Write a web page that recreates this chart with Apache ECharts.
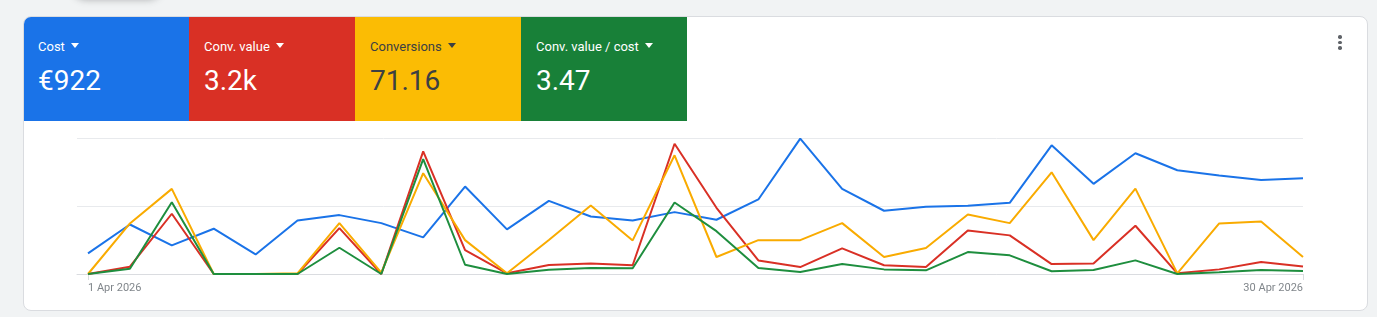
<!DOCTYPE html>
<html>
<head>
<meta charset="utf-8">
<script src="https://cdn.jsdelivr.net/npm/echarts@6/dist/echarts.min.js"></script>
<style>
    html, body { margin: 0; padding: 0; background: #f1f3f4; font-family: Roboto, "Noto Sans", sans-serif; }
    body { width: 1377px; height: 317px; position: relative; overflow: hidden; }
    .top-chip { position: absolute; left: 70px; top: -36px; width: 94px; height: 34px; border-radius: 17px;
        background: #f1f3f4; box-shadow: 0 2px 7px rgba(60,64,67,.35); }
    .card { position: absolute; left: 23px; top: 16px; width: 1345px; height: 295px; background: #fff;
        border: 1px solid #dadce0; border-radius: 8px; box-sizing: border-box; overflow: hidden; }
    .tiles { position: absolute; left: -1px; top: -1px; height: 105px; display: flex; }
    .tile { width: 166px; height: 105px; box-sizing: border-box; padding: 23px 0 0 15px; color: #fff; }
    .tile .name { font-size: 13px; font-weight: 400; height: 16px; line-height: 16px; }
    .tile .name i { display: inline-block; width: 0; height: 0; margin-left: 6px; vertical-align: 3px;
        border-left: 4.5px solid transparent; border-right: 4.5px solid transparent; border-top: 5px solid currentColor; }
    .tile .val { font-size: 28px; line-height: 34px; margin-top: 9px; }
    .more { position: absolute; left: 1314px; top: 18px; width: 4px; }
    .more span { display: block; width: 3.5px; height: 3.5px; border-radius: 50%; background: #5f6368; margin-bottom: 2px; }
    #chart { position: absolute; left: 0; top: 0; width: 1377px; height: 317px; }
</style>
</head>
<body>
<div class="top-chip"></div>
<div class="card">
    <div class="tiles" id="tiles"></div>
    <div class="more"><span></span><span></span><span></span></div>
</div>
<div id="chart"></div>
<script>
    // metric tiles
    const metricNames = ['Cost', 'Conv. value', 'Conversions', 'Conv. value / cost'];
    const metricTotals = ['€922', '3.2k', '71.16', '3.47'];
    const tileColors = ['#1a73e8', '#d93025', '#fbbc04', '#188038'];
    const tileText = ['#fff', '#fff', '#3c4043', '#fff'];
    const lineColors = ['#1a73e8', '#d93025', '#f9ab00', '#1e8e3e'];

    // days of April 2026
    const days = ['1 Apr 2026', '2 Apr 2026', '3 Apr 2026', '4 Apr 2026', '5 Apr 2026', '6 Apr 2026',
        '7 Apr 2026', '8 Apr 2026', '9 Apr 2026', '10 Apr 2026', '11 Apr 2026', '12 Apr 2026',
        '13 Apr 2026', '14 Apr 2026', '15 Apr 2026', '16 Apr 2026', '17 Apr 2026', '18 Apr 2026',
        '19 Apr 2026', '20 Apr 2026', '21 Apr 2026', '22 Apr 2026', '23 Apr 2026', '24 Apr 2026',
        '25 Apr 2026', '26 Apr 2026', '27 Apr 2026', '28 Apr 2026', '29 Apr 2026', '30 Apr 2026'];
    const tickLabels = ['1 Apr 2026', '30 Apr 2026'];

    // each metric scaled to its own axis (0-100 = share of the plot height)
    const cost = [15.2, 36.4, 21.0, 33.3, 14.4, 39.4, 43.3, 37.4, 26.9, 64.3,
        32.8, 53.8, 42.3, 39.4, 45.5, 39.9, 54.8, 99.5, 62.6, 46.5,
        49.4, 50.1, 52.3, 94.6, 66.3, 88.8, 76.3, 72.4, 69.2, 70.4];
    const convValue = [0, 5.4, 44.3, 0, 0, 0, 33.7, 0, 90.2, 17.5,
        0.5, 6.6, 7.8, 6.4, 95.8, 48.7, 10.0, 5.1, 18.8, 6.4,
        5.1, 32.0, 28.4, 7.3, 7.8, 35.5, 0.5, 3.4, 8.8, 5.6];
    const conversions = [0, 37.2, 62.6, 0, 0, 0.5, 37.4, 1, 74.1, 24.9,
        0.5, 25.0, 50.4, 24.7, 87.3, 12.5, 24.9, 24.9, 37.4, 12.5,
        19.1, 43.8, 37.4, 74.8, 24.9, 62.8, 0.5, 37.2, 38.6, 12.5];
    const roas = [0, 3.9, 52.8, 0, 0, 0, 19.3, 0, 84.4, 6.8,
        0, 3.2, 4.4, 4.2, 52.6, 31.5, 4.4, 1.5, 7.3, 3.4,
        2.7, 16.1, 13.7, 2.0, 2.9, 10.0, 0, 1.2, 2.9, 2.2];
    const seriesData = [cost, convValue, conversions, roas];

    let tilesHtml = '';
    for (let i = 0; i < metricNames.length; i++) {
        tilesHtml += '<div class="tile" style="background:' + tileColors[i] + ';color:' + tileText[i] + '">' +
            '<div class="name">' + metricNames[i] + '<i></i></div>' +
            '<div class="val">' + metricTotals[i] + '</div></div>';
    }
    document.getElementById('tiles').innerHTML = tilesHtml;

    let chart = echarts.init(document.getElementById('chart'), null, { renderer: 'canvas' });
    let series = [];
    for (let s = 0; s < seriesData.length; s++) {
        series.push({
            name: metricNames[s],
            type: 'line',
            symbol: 'none',
            z: 2 + s,
            lineStyle: { width: 2, color: lineColors[s] },
            itemStyle: { color: lineColors[s] },
            data: seriesData[s].map(function (v, i) { return [i, v]; })
        });
    }
    let option = {
        animation: false,
        grid: { left: 77, right: 74, top: 138, bottom: 43 },
        xAxis: {
            type: 'value',
            min: -0.263,
            max: days.length - 1,
            splitLine: { show: false },
            axisLine: { show: true, lineStyle: { color: '#dadce0', width: 1 } },
            axisTick: { show: true, customValues: [0, days.length - 1], length: 6, lineStyle: { color: '#dadce0' } },
            axisLabel: {
                customValues: [0, days.length - 1],
                formatter: function (v) { return v === 0 ? tickLabels[0] : tickLabels[1]; },
                alignMinLabel: 'left',
                alignMaxLabel: 'right',
                color: '#80868b',
                fontFamily: 'Roboto',
                fontSize: 11,
                margin: 9
            }
        },
        yAxis: {
            type: 'value',
            min: 0,
            max: 100,
            interval: 50,
            axisLabel: { show: false },
            axisLine: { show: false },
            axisTick: { show: false },
            splitLine: { lineStyle: { color: '#e8eaed', width: 1 } }
        },
        series: series
    };
    chart.setOption(option);
</script>
</body>
</html>
